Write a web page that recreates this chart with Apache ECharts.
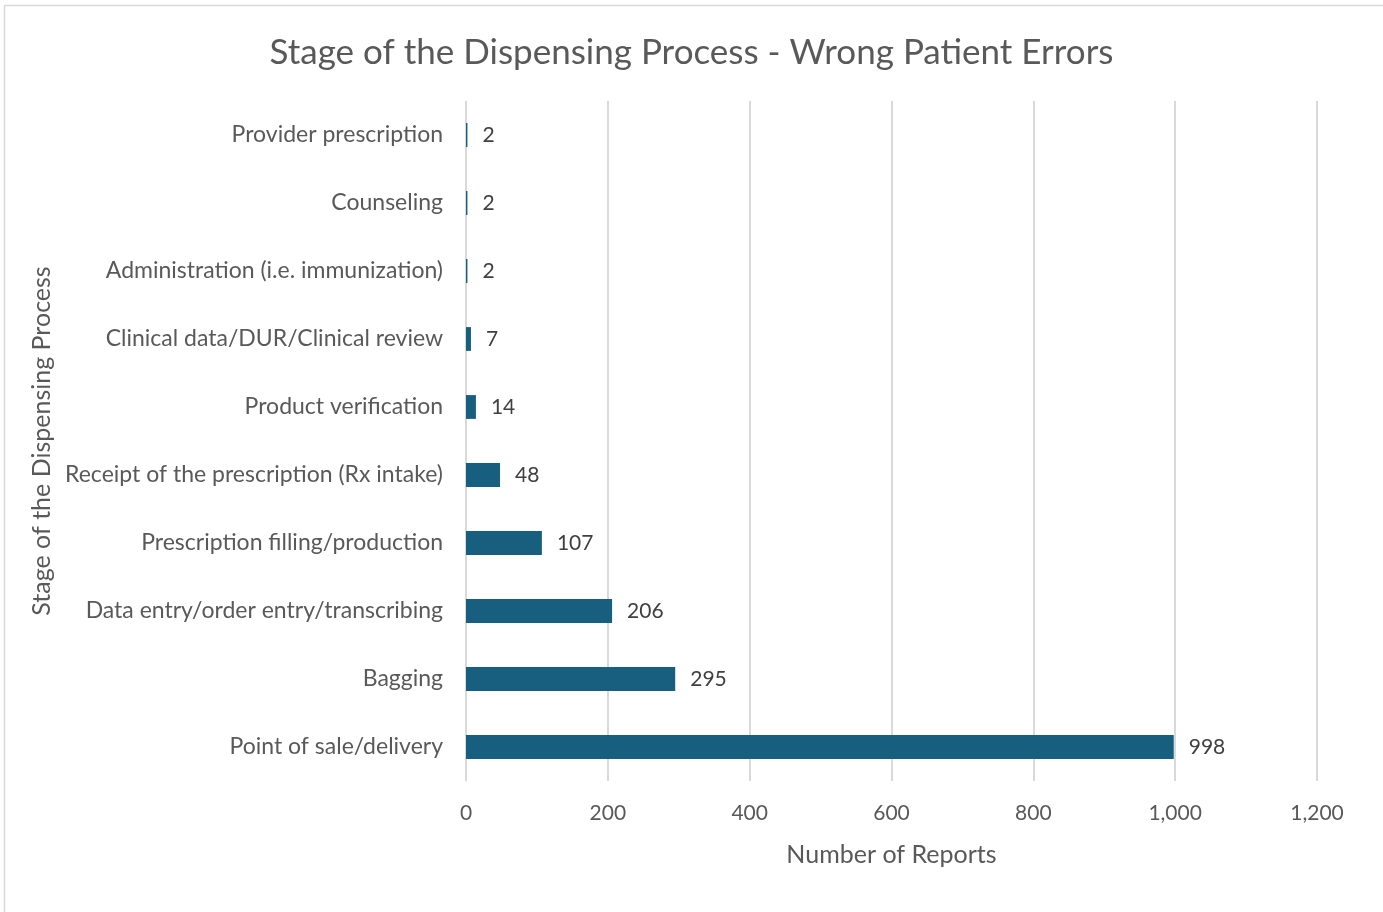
<!DOCTYPE html>
<html><head><meta charset="utf-8">
<script src="https://cdn.jsdelivr.net/npm/echarts@6/dist/echarts.min.js"></script>
<style>html,body{margin:0;padding:0;background:#fff}#c{width:1383px;height:912px}</style>
</head><body><div id="c"></div>
<script>
const categories = ["Point of sale/delivery","Bagging","Data entry/order entry/transcribing","Prescription filling/production","Receipt of the prescription (Rx intake)","Product verification","Clinical data/DUR/Clinical review","Administration (i.e. immunization)","Counseling","Provider prescription"];
const values = [998,295,206,107,48,14,7,2,2,2];
const xTicks = [0,200,400,600,800,1000,1200];
const font = "Lato, 'Open Sans', sans-serif";
const chart = echarts.init(document.getElementById('c'));
chart.setOption({
  backgroundColor:'#fff',
  animation:false,
  graphic:[{type:'rect',shape:{x:4.5,y:5.5,width:1400,height:920},style:{fill:'none',stroke:'#d9d9d9',lineWidth:1.5}}],
  title:{text:'Stage of the Dispensing Process - Wrong Patient Errors',left:'center',top:30,
    textStyle:{fontFamily:font,fontSize:35,fontWeight:'normal',color:'#595959'}},
  grid:{left:466,right:66,top:101,bottom:131},
  xAxis:{type:'value',min:0,max:1200,interval:200,
    name:'Number of Reports',nameLocation:'middle',nameGap:61,
    nameTextStyle:{fontFamily:font,fontSize:25,color:'#595959'},
    axisLabel:{fontFamily:font,fontSize:21,color:'#595959',margin:22,
      formatter:v=>xTicks.includes(v)?v.toLocaleString('en-US'):''},
    axisLine:{show:false},axisTick:{show:false},
    splitLine:{lineStyle:{color:'#d9d9d9',width:2}}},
  yAxis:{type:'category',data:categories,
    name:'Stage of the Dispensing Process',nameLocation:'middle',nameGap:412,
    nameTextStyle:{fontFamily:font,fontSize:25,color:'#595959'},
    axisLabel:{fontFamily:font,fontSize:23,color:'#595959',margin:23,padding:[3,0,0,0]},
    axisLine:{show:true,lineStyle:{color:'#d9d9d9',width:1}},axisTick:{show:false}},
  series:[{type:'bar',data:values,barWidth:'35%',itemStyle:{color:'#175e7f'},
    label:{show:true,position:'right',distance:15,fontFamily:font,fontSize:21,color:'#404040',padding:[3,0,0,0]}}]
});
</script></body></html>
